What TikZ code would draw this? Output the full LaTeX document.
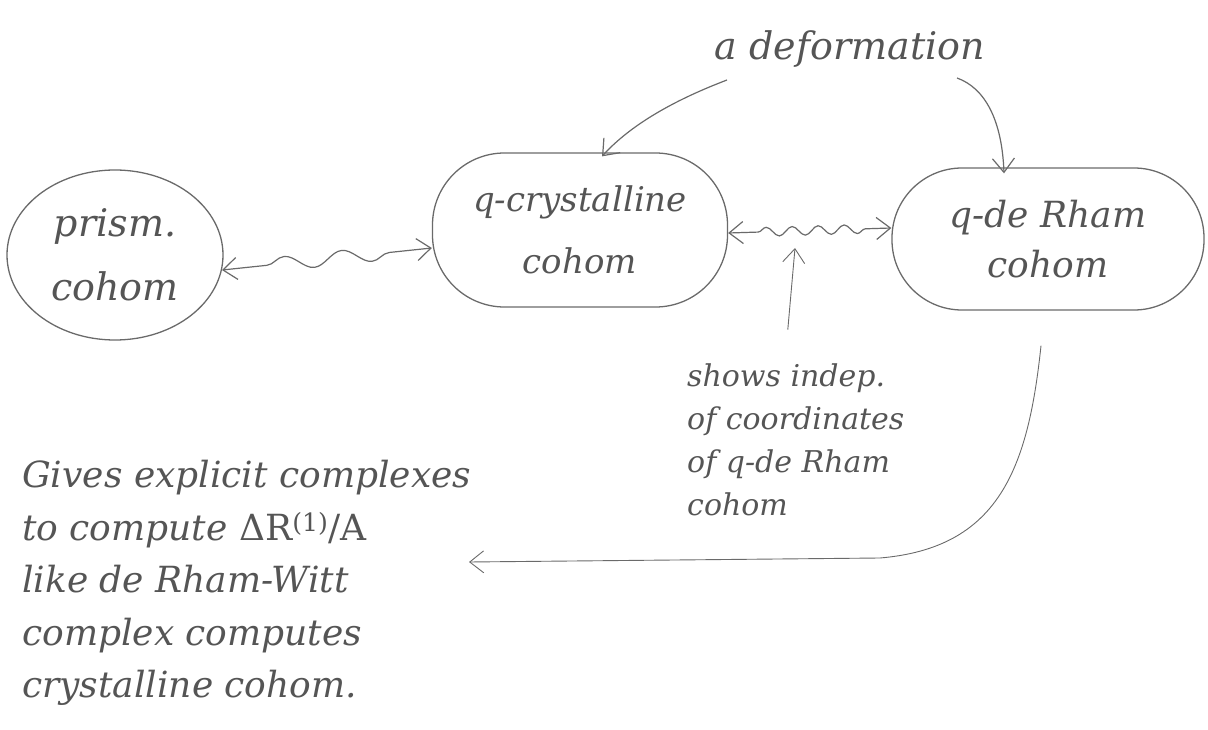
\documentclass[tikz,border=0pt]{standalone}
\usepackage{fontspec}
\setmainfont{DejaVu Serif}
\usetikzlibrary{arrows.meta,shapes.geometric,decorations.pathmorphing}
\definecolor{pencil}{HTML}{555555}
\definecolor{pencilline}{HTML}{6A6A6A}
\tikzset{
  hand/.style={text=pencil, inner sep=0pt},
  bubble/.style={draw=pencilline, line width=1.3pt, hand, align=center},
  barb/.tip={Straight Barb[length=14pt,width=22pt]},
  link/.style={draw=pencilline, line width=1.2pt, -barb},
  wave/.style={draw=pencilline, line width=1.2pt, barb-barb, decorate},
}
\begin{document}
\begin{tikzpicture}[x=1pt,y=-1pt]
\useasboundingbox (0,0) rectangle (1208,730);

% bubbles
\node[bubble, ellipse, minimum width=216pt, minimum height=170pt,
      font=\itshape\fontsize{38}{64}\selectfont] (prism) at (115,255) {prism.\\cohom};
\node[bubble, rectangle, rounded corners=72pt, minimum width=295pt, minimum height=154pt,
      font=\itshape\fontsize{34}{62}\selectfont] (mid) at (580,230) {q-crystalline\\cohom};
\node[bubble, rectangle, rounded corners=70pt, minimum width=312pt, minimum height=142pt,
      font=\itshape\fontsize{36}{50}\selectfont] (dr) at (1048,239) {q-de Rham\\cohom};

% labels
\node[hand, anchor=base, font=\itshape\fontsize{38}{44}\selectfont] (deform) at (850,60) {a deformation};
\node[hand, anchor=west, align=left, font=\itshape\fontsize{30}{43}\selectfont] (shows) at (687,440)
  {shows indep.\\of coordinates\\of q-de Rham\\cohom};
\node[hand, anchor=west, align=left, font=\itshape\fontsize{36}{52.5}\selectfont] (gives) at (22,583)
  {Gives explicit complexes\\to compute {\upshape ΔR\textsuperscript{(1)}/A}\\like de Rham-Witt\\complex computes\\crystalline cohom.};

% coordinates for free ends
\coordinate (d1) at (727,80);
\coordinate (d2) at (957,78);
\coordinate (s2) at (795,248);
\coordinate (c2) at (469,562);

% wavy double arrows
\draw[wave, decoration={snake, amplitude=7pt, segment length=58pt, pre length=45pt, post length=14pt}]
  (prism.-8) -- ([yshift=-18pt]mid.west);
\draw[wave, decoration={snake, amplitude=4.5pt, segment length=26pt, pre length=30pt, post length=22pt}]
  ([yshift=-3pt]mid.east) -- ([yshift=11pt]dr.west);

% deformation arrows
\draw[link] (d1) .. controls (685,96) and (635,120) .. ([xshift=22pt,yshift=-4pt]mid.north);
\draw[link] (d2) .. controls (985,88) and (1002,120) .. ([xshift=-44pt,yshift=-6pt]dr.north);

% shows arrow
\draw[link, line width=0.9pt] ([xshift=-8pt,yshift=34pt]shows.north) -- (s2);

% long arrow to explanation
\draw[link, line width=0.9pt] ([xshift=-7pt,yshift=-35pt]dr.south)
  .. controls (1028,470) and (998,548) .. (880,558) -- (c2);
\end{tikzpicture}
\end{document}
